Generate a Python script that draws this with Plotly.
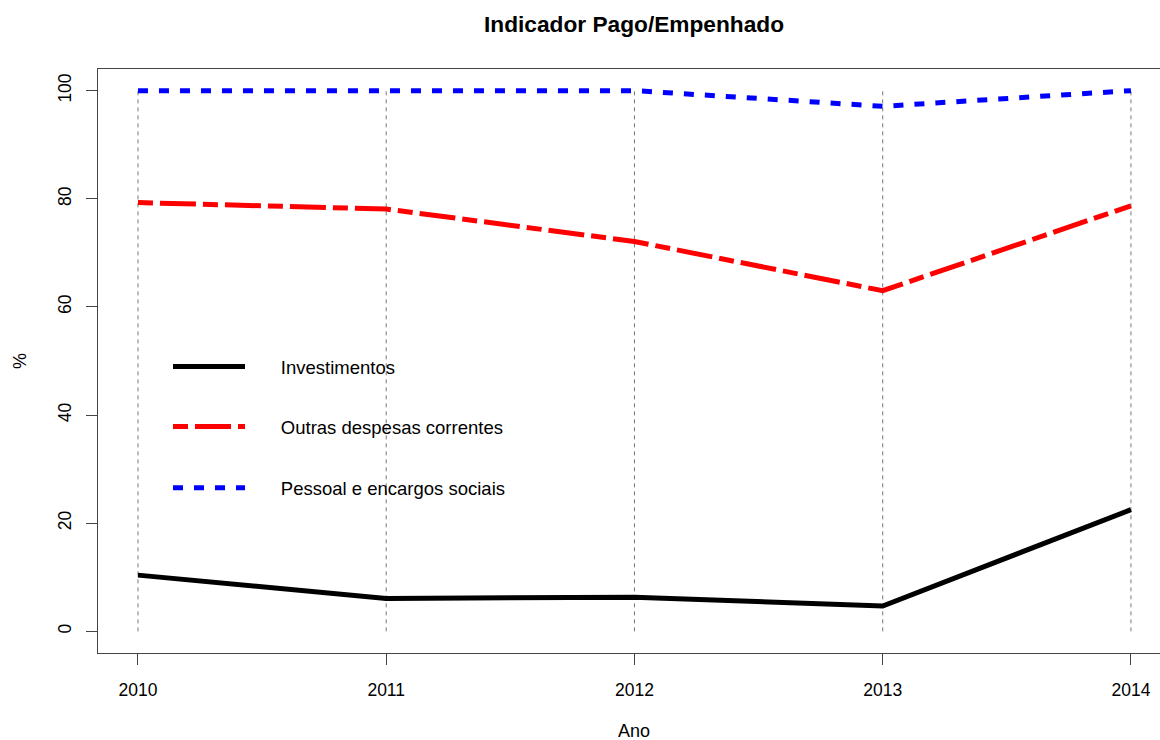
import plotly.graph_objects as go

years = [2010, 2011, 2012, 2013, 2014]
investimentos = [10.4, 6.1, 6.3, 4.7, 22.5]
outras = [79.3, 78.1, 72.1, 63.0, 78.7]
pessoal = [100.0, 100.0, 100.0, 97.1, 100.0]
names = ["Investimentos", "Outras despesas correntes", "Pessoal e encargos sociais"]
y_ticks = [0, 20, 40, 60, 80, 100]

FONT = "Liberation Sans, Arial, Helvetica, sans-serif"
PAD = "\u00a0" * 6

fig = go.Figure()

# vertical dashed guide lines at each year
gx, gy = [], []
for yr in years:
    gx += [yr, yr, None]
    gy += [y_ticks[0], y_ticks[-1], None]
fig.add_trace(go.Scatter(x=gx, y=gy, mode="lines", showlegend=False, hoverinfo="skip",
                         line=dict(color="#777777", width=1, dash="4px,4px")))

series = [
    (investimentos, names[0], dict(color="black", width=5), "legend"),
    (outras, names[1], dict(color="#FF0000", width=5, dash="15px,7px,36px,7px"), "legend2"),
    (pessoal, names[2], dict(color="#0000FF", width=5, dash="10px,11px"), "legend3"),
]
for vals, nm, ln, lg in series:
    fig.add_trace(go.Scatter(x=years, y=vals, mode="lines", name=PAD + nm, line=ln, legend=lg))

ax_common = dict(showline=True, linecolor="#444444", linewidth=1, ticks="outside",
                 ticklen=11, tickcolor="#444444", showgrid=False, zeroline=False,
                 tickfont=dict(family=FONT, size=17.5, color="black"))

fig.update_xaxes(range=[2009.839, 2014.117], tickvals=years, mirror=True,
                 ticklabelstandoff=10, **ax_common)
fig.update_yaxes(range=[-4, 104], tickvals=y_ticks, tickangle=-90,
                 ticklabelstandoff=8, **ax_common)

def leg(ypx):
    return dict(x=(168 - 98) / 1062, y=(652.6 - ypx) / 583.2, xanchor="left", yanchor="middle",
                bgcolor="rgba(0,0,0,0)", itemwidth=72,
                font=dict(family=FONT, size=18.5, color="black"))

fig.update_layout(
    width=1160, height=740,
    margin=dict(l=98, r=0, t=69.4, b=87.4),
    plot_bgcolor="white", paper_bgcolor="white",
    legend=leg(367), legend2=leg(427), legend3=leg(488),
    annotations=[
        dict(text="<b>Indicador Pago/Empenhado</b>", xref="paper", yref="paper", x=(634 - 98) / 1062,
             y=1, yanchor="middle", yshift=45, showarrow=False,
             font=dict(family=FONT, size=22.7, color="black")),
        dict(text="Ano", xref="paper", yref="paper", x=(634 - 98) / 1062, y=0, yanchor="middle",
             yshift=-78, showarrow=False, font=dict(family=FONT, size=18, color="black")),
        dict(text="%", xref="paper", yref="paper", x=0, y=0.5, xanchor="center", yanchor="middle",
             xshift=-78, textangle=-90, showarrow=False,
             font=dict(family=FONT, size=18, color="black")),
    ],
)

fig.write_html("out.html", config={"displayModeBar": False},
               post_script="document.body.style.margin='0';document.body.style.overflow='hidden';")
